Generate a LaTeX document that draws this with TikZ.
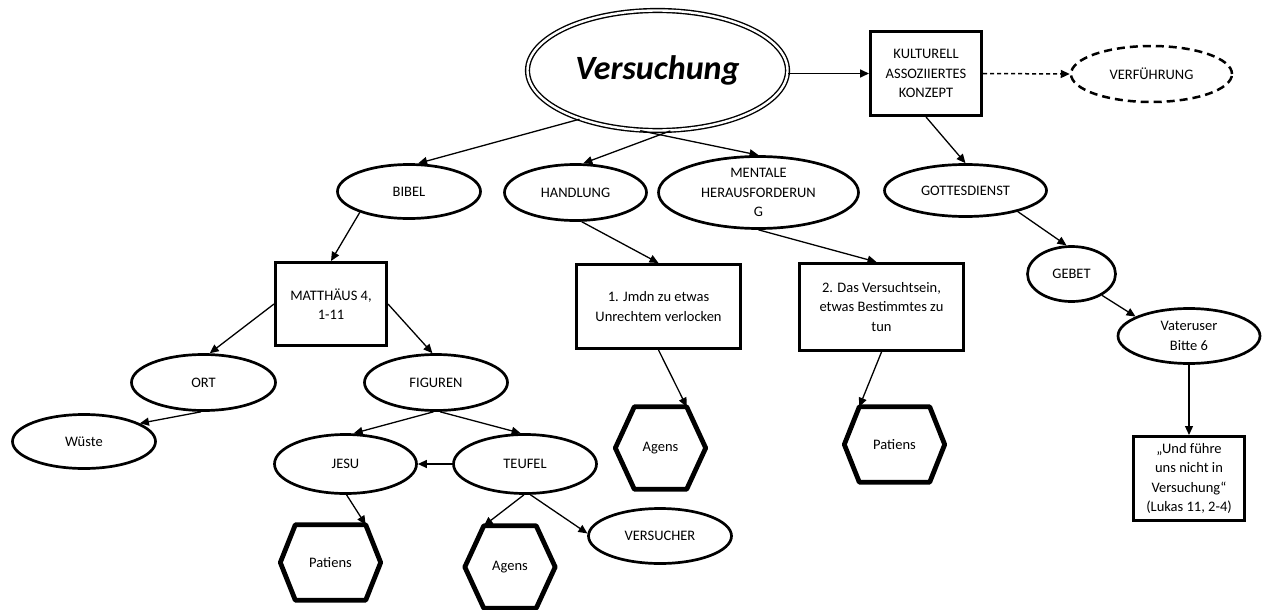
\documentclass[tikz,border=0pt]{standalone}
\usepackage{fontspec}
\setmainfont{Carlito}
\usetikzlibrary{shapes.geometric,arrows.meta}
\begin{document}
\begin{tikzpicture}[x=1pt,y=-1pt,
  every node/.style={font=\fontsize{14.5}{19.5}\selectfont, align=center, inner sep=0pt},
  oval/.style={ellipse, draw, line width=2.7pt},
  box/.style={rectangle, draw, line width=3pt},
  hexline/.style={draw, line width=4.8pt, line join=round},
  conn/.style={line width=1.3pt, -{Triangle[length=9pt,width=8pt]}},
]
\fill[white,use as bounding box] (0,0) rectangle (1266,610);

% central concept and its cultural association
\node[ellipse, draw, line width=1.4pt, double, double distance=2.4pt,
      minimum width=260pt, minimum height=120pt,
      font=\fontsize{34}{40}\selectfont\bfseries\itshape] (V) at (657.5,70.5) {Versuchung};
\node[box, minimum width=111pt, minimum height=84pt] (K) at (926,73.5) {KULTURELL\\ASSOZIIERTES\\KONZEPT};
\node[ellipse, draw, line width=2.5pt, dash pattern=on 8pt off 5pt,
      minimum width=161pt, minimum height=56pt] (VF) at (1151.5,74) {VERFÜHRUNG};

% second level
\node[oval, minimum width=143pt, minimum height=54pt] (BI) at (409,191.5) {BIBEL};
\node[oval, minimum width=142pt, minimum height=56pt] (HA) at (575.5,192.5) {HANDLUNG};
\node[oval, minimum width=200pt, minimum height=72pt] (MH) at (758.5,192.5) {MENTALE\\HERAUSFORDERUN\\G};
\node[oval, minimum width=162pt, minimum height=52pt] (GD) at (965.5,190.5) {GOTTESDIENST};

% biblical branch
\node[box, minimum width=111pt, minimum height=83pt] (MT) at (331,304) {MATTHÄUS 4,\\1-11};
\node[oval, minimum width=144pt, minimum height=56pt] (ORT) at (203.5,382.5) {ORT};
\node[oval, minimum width=143pt, minimum height=56pt] (FI) at (436,382.5) {FIGUREN};
\node[oval, minimum width=143pt, minimum height=54pt] (WU) at (84,441.5) {Wüste};
\node[oval, minimum width=142pt, minimum height=59pt] (JE) at (345.5,464) {JESU};
\node[oval, minimum width=143pt, minimum height=59pt] (TE) at (525,464) {TEUFEL};
\node[oval, minimum width=143pt, minimum height=55pt] (VE) at (660,536) {VERSUCHER};

% meanings
\node[box, minimum width=164pt, minimum height=84pt] (B1) at (658.5,306.5) {1. Jmdn zu etwas\\Unrechtem verlocken};
\node[box, minimum width=164pt, minimum height=87pt] (B2) at (881.5,307) {2. Das Versuchtsein,\\etwas Bestimmtes zu\\tun};

% worship branch
\node[oval, minimum width=88pt, minimum height=55pt] (GE) at (1071.5,274) {GEBET};
\node[oval, minimum width=142pt, minimum height=55pt] (VA) at (1189,336) {Vateruser\\Bitte 6};
\node[box, minimum width=111pt, minimum height=84pt] (UF) at (1189,478.5) {„Und führe\\uns nicht in\\Versuchung“\\(Lukas 11, 2-4)};

% semantic roles (hexagons drawn around these cores)
\node[minimum width=70pt, minimum height=75pt] (HP1) at (330.5,562.5) {Patiens};
\node[minimum width=52pt, minimum height=82pt] (HA1) at (510,567) {Agens};
\node[minimum width=52pt, minimum height=82pt] (HA2) at (660.5,448) {Agens};
\node[minimum width=70pt, minimum height=75pt] (HP2) at (894.5,444.5) {Patiens};
\foreach \h/\s in {HP1/15, HP2/15, HA1/19, HA2/19}
  \draw[hexline] (\h.north west) -- (\h.north east) -- ([xshift=\s pt]\h.east)
    -- (\h.south east) -- (\h.south west) -- ([xshift=-\s pt]\h.west) -- cycle;

% connectors
\draw[conn, line width=1.6pt] (V.east |- K.west) -- (K.west);
\draw[conn, line width=1.5pt, dash pattern=on 4pt off 3pt] (K.east) -- (VF.west);
\draw[conn] (V.212) -- (BI.72);
\draw[conn] (V.282) -- (HA.75);
\draw[conn] (V.254) -- (MH.north);
\draw[conn] (K.south) -- (GD.north);
\draw[conn] (BI.203) -- (MT.north);
\draw[conn] (MT.west) -- (ORT.78);
\draw[conn] (MT.east) -- (FI.97);
\draw[conn] (ORT.265) -- (WU.18);
\draw[conn] (FI.265) -- (JE.75);
\draw[conn] (FI.278) -- (TE.98);
\draw[conn] (TE) -- (JE);
\draw[conn] (JE.272) -- (HP1.north east);
\draw[conn] (TE.268) -- (HA1.north west);
\draw[conn] (TE.280) -- (VE.178);
\draw[conn] (HA.282) -- (B1.north);
\draw[conn] (MH.south) -- ([xshift=-5pt]B2.north);
\draw[conn] (B1.south) -- (HA2.north east);
\draw[conn] (B2.south) -- (HP2.north west);
\draw[conn] (GD.338) -- (GE.100);
\draw[conn] (GE.325) -- (VA.160);
\draw[conn] (VA.south) -- (UF.north);
\end{tikzpicture}
\end{document}
